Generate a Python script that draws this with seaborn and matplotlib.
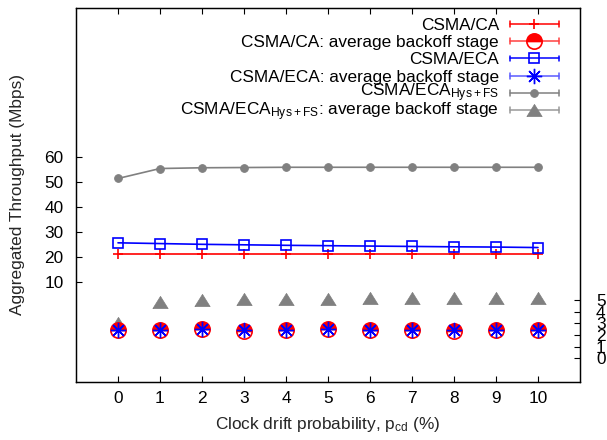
import matplotlib
matplotlib.use("Agg")
import matplotlib.pyplot as plt
import seaborn as sns
import pandas as pd
from matplotlib.lines import Line2D

# ---- data ----
drift = [0, 1, 2, 3, 4, 5, 6, 7, 8, 9, 10]
csma_ca = [21.4, 21.4, 21.4, 21.4, 21.4, 21.4, 21.4, 21.4, 21.4, 21.4, 21.4]
csma_eca = [25.7, 25.4, 25.1, 24.9, 24.7, 24.55, 24.4, 24.25, 24.1, 24.0, 23.8]
csma_eca_hysfs = [51.5, 55.5, 55.8, 55.9, 56.0, 56.0, 56.0, 56.0, 56.0, 56.0, 56.0]
ca_backoff = [2.4, 2.4, 2.5, 2.35, 2.4, 2.5, 2.45, 2.45, 2.35, 2.4, 2.45]
eca_backoff = [2.4, 2.4, 2.5, 2.4, 2.4, 2.5, 2.45, 2.45, 2.4, 2.4, 2.45]
hysfs_backoff = [3.05, 4.8, 4.95, 5.05, 5.1, 5.1, 5.15, 5.15, 5.15, 5.15, 5.15]
left_ticks = [10, 20, 30, 40, 50, 60]
right_ticks = [0, 1, 2, 3, 4, 5]
labels = [
    "CSMA/CA",
    "CSMA/CA: average backoff stage",
    "CSMA/ECA",
    "CSMA/ECA: average backoff stage",
    r"CSMA/ECA$_{\mathrm{Hys+FS}}$",
    r"CSMA/ECA$_{\mathrm{Hys+FS}}$: average backoff stage",
]

df = pd.DataFrame({
    "x": drift, "ca": csma_ca, "eca": csma_eca, "hys": csma_eca_hysfs,
    "cab": ca_backoff, "ecab": eca_backoff, "hysb": hysfs_backoff,
})

sns.set_theme(style="ticks")
plt.rcParams["font.family"] = ["Liberation Sans", "DejaVu Sans"]
plt.rcParams["mathtext.fontset"] = "custom"
plt.rcParams["mathtext.rm"] = "Liberation Sans"
plt.rcParams["mathtext.it"] = "Liberation Sans:italic"
plt.rcParams["mathtext.bf"] = "Liberation Sans:bold"
FS = 12.4

RED = "#ff0000"
BLUE = "#0000ff"
GRAY = "#808080"
TRI = [(-1, -0.8), (1, -0.8), (0, 0.8), (-1, -0.8)]

W, H = 607, 440
fig = plt.figure(figsize=(W / 100, H / 100), dpi=100)
fig.patch.set_facecolor("white")
ax = fig.add_axes([76 / W, 1 - 381.7 / H, (580 - 76) / W, (381.7 - 7.7) / H])
ax2 = ax.twinx()

# throughput series (left axis)
sns.lineplot(data=df, x="x", y="ca", ax=ax, color=RED, lw=1.2, marker="+", ms=7,
             mew=1.2, mec=RED, legend=False, errorbar=None)
h_ca = ax.lines[-1]
sns.lineplot(data=df, x="x", y="eca", ax=ax, color=BLUE, lw=1.2, marker="s", ms=6.5,
             mew=1.2, mec=BLUE, mfc="none", legend=False, errorbar=None)
h_eca = ax.lines[-1]
sns.lineplot(data=df, x="x", y="hys", ax=ax, color=GRAY, lw=1.2, marker="o", ms=5.5,
             mec=GRAY, mfc=GRAY, legend=False, errorbar=None)
h_hys = ax.lines[-1]

# backoff stage series (right axis)
sns.lineplot(data=df, x="x", y="hysb", ax=ax2, color=GRAY, linestyle="none",
             marker=TRI, ms=11, mec=GRAY, mfc=GRAY, mew=0.5, legend=False,
             errorbar=None)
h_hysb = ax2.lines[-1]
sns.lineplot(data=df, x="x", y="cab", ax=ax2, color=RED, linestyle="none",
             marker="o", ms=11, mec=RED, mfc=RED, mew=1.2, fillstyle="top",
             markerfacecoloralt="white", legend=False, errorbar=None)
h_cab = ax2.lines[-1]
sns.lineplot(data=df, x="x", y="ecab", ax=ax2, color=BLUE, linestyle="none",
             marker=(8, 2, 0), ms=11, mec=BLUE, mew=1.0, legend=False, errorbar=None)
h_ecab = ax2.lines[-1]

ax.set_xlim(-1, 11)
ax.set_ylim(-30, 120)
ax2.set_ylim(-2, 30)
ax.set_xticks(drift)
ax.set_xticklabels([str(v) for v in drift], fontsize=FS)
ax.set_yticks(left_ticks)
ax.set_yticklabels([str(v) for v in left_ticks], fontsize=FS)
ax2.set_yticks(right_ticks)
ax2.set_yticklabels([str(v) for v in right_ticks], fontsize=FS)

for a in (ax, ax2):
    for s in a.spines.values():
        s.set_visible(True)
        s.set_color("black")
        s.set_linewidth(0.9)
ax.tick_params(axis="x", direction="in", length=4.5, width=0.8, top=True,
               bottom=True, pad=7, colors="black")
ax.tick_params(axis="y", direction="in", length=4.5, width=0.8, left=True,
               right=False, pad=9, colors="black")
ax2.tick_params(axis="y", direction="in", length=4.5, width=0.8, left=False,
                right=True, pad=11.5, colors="black")

ax.set_xlabel(r"Clock drift probability, p$_{\mathrm{cd}}$ (%)", fontsize=FS, labelpad=6)
ax.set_ylabel("Aggregated Throughput (Mbps)", fontsize=FS, labelpad=14)
ax2.set_ylabel("")

# ---- gnuplot-style key (text right-aligned, sample with end caps on the right) ----
handles = [h_ca, h_cab, h_eca, h_ecab, h_hys, h_hysb]
line_cols = [RED, "#ff4040", BLUE, "#5a5aff", GRAY, "#999999"]
base_off = [6.0, 6.0, 6.0, 6.0, 3.5, 4.7]
key_text_right, key_x0, key_x1 = 499, 509.5, 559
key_y0, key_dy = 24.0, 17.25
cap = 2.8


def fx(px):
    return px / W


def fy(py):
    return 1 - py / H


for i, (h, lab, lc, bo) in enumerate(zip(handles, labels, line_cols, base_off)):
    yc = key_y0 + i * key_dy
    fig.text(fx(key_text_right), fy(yc + bo), lab, ha="right", va="baseline",
             fontsize=FS, color="black")
    for xs, ys in (([key_x0, key_x1], [yc, yc]),
                   ([key_x0, key_x0], [yc - cap, yc + cap]),
                   ([key_x1, key_x1], [yc - cap, yc + cap])):
        fig.add_artist(Line2D([fx(v) for v in xs], [fy(v) for v in ys],
                              color=lc, lw=1.1, transform=fig.transFigure))
    fig.add_artist(Line2D([fx((key_x0 + key_x1) / 2)], [fy(yc)], linestyle="none",
                          marker=h.get_marker(), ms=h.get_markersize(),
                          mfc=h.get_markerfacecolor(), mec=h.get_markeredgecolor(),
                          mew=h.get_markeredgewidth(), fillstyle=h.get_fillstyle(),
                          markerfacecoloralt=h.get_markerfacecoloralt(),
                          transform=fig.transFigure))

fig.savefig("out.png", dpi=100, facecolor="white")
